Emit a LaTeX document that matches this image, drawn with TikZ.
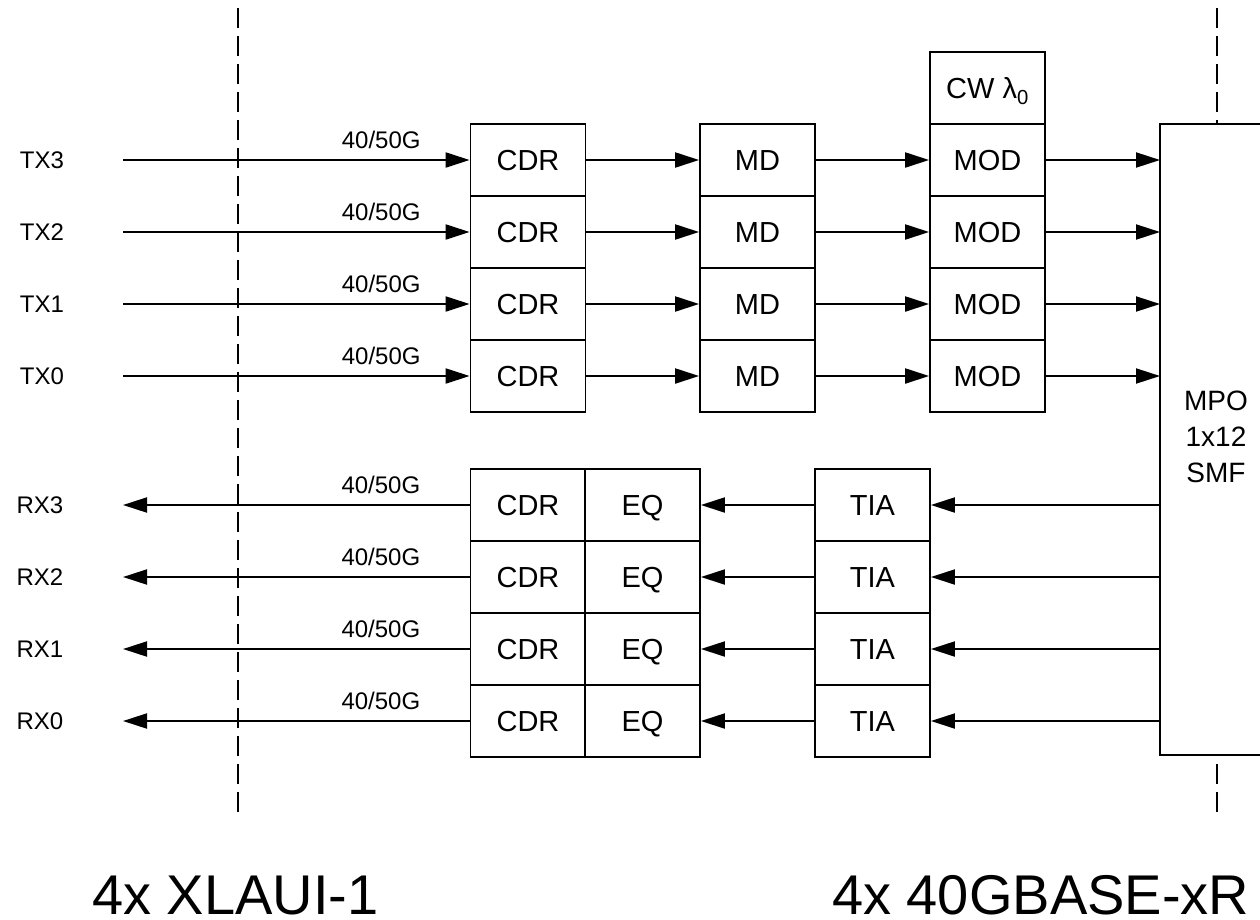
\documentclass[tikz,border=0pt]{standalone}
\usepackage{fontspec}
\setmainfont{Liberation Sans}
\usetikzlibrary{arrows.meta}
\begin{document}
\begin{tikzpicture}[x=1pt,y=-1pt,
  blk/.style={draw, line width=1.8pt, fill=white, minimum width=115pt, minimum height=72pt, inner sep=0pt, text height=21pt, text depth=0pt, font=\fontsize{29}{32}\selectfont},
  arr/.style={line width=2pt, -{Triangle[length=24pt,width=15pt]}},
  sep/.style={line width=1.6pt, dash pattern=on 20pt off 8pt},
  lane/.style={font=\fontsize{24}{26}\selectfont},
  rate/.style={font=\fontsize{24}{26}\selectfont, anchor=base, yshift=12pt},
  big/.style={font=\fontsize{56}{60}\selectfont, anchor=base west, inner sep=0pt}]
\useasboundingbox (0,0) rectangle (1260,919);
% separators
\coordinate (sL1) at (238,8);
\coordinate (sL2) at (238,818);
\coordinate (sR1) at (1217,8);
\coordinate (sR2) at (1217,818);
\draw[sep] (sL1) -- (sL2);
\draw[sep] (sR1) -- (sR2);
% MPO
\node[draw, line width=1.8pt, fill=white, minimum width=112pt, minimum height=631pt, inner sep=0pt] (mpo) at (1216,439.5) {};
\node[align=center, font=\fontsize{28}{36}\selectfont] (mpotxt) at (1216,437) {MPO\\1x12\\SMF};
% CW
\node[blk] (cw) at (987.5,88) {CW λ\textsubscript{0}};
% TX rows
\foreach \i/\y in {3/160,2/232,1/304,0/376}{
  \node[lane] (tx\i) at (42,\y) {TX\i};
  \coordinate (ts\i) at (123,\y);
  \node[blk] (tcdr\i) at (528,\y) {CDR};
  \node[blk] (md\i) at (757.5,\y) {MD};
  \node[blk] (mod\i) at (987.5,\y) {MOD};
  \coordinate (mi\i) at (1160,\y);
  \draw[arr] (ts\i) -- (tcdr\i.west) node[rate, pos=0.745] {40/50G};
  \draw[arr] (tcdr\i.east) -- (md\i.west);
  \draw[arr] (md\i.east) -- (mod\i.west);
  \draw[arr] (mod\i.east) -- (mi\i);
}
% RX rows
\foreach \i/\y in {3/505,2/577,1/649,0/721}{
  \node[lane] (rx\i) at (40,\y) {RX\i};
  \coordinate (re\i) at (123,\y);
  \node[blk] (rcdr\i) at (528,\y) {CDR};
  \node[blk] (eq\i) at (642.5,\y) {EQ};
  \node[blk] (tia\i) at (872.5,\y) {TIA};
  \coordinate (mo\i) at (1160,\y);
  \draw[arr] (rcdr\i.west) -- (re\i) node[rate, pos=0.256] {40/50G};
  \draw[arr] (tia\i.west) -- (eq\i.east);
  \draw[arr] (mo\i) -- (tia\i.east);
}
% bottom labels
\node[big] (lblL) at (92,914) {4x XLAUI-1};
\node[big] (lblR) at (832,914) {4x 40GBASE-xR};
\end{tikzpicture}
\end{document}
